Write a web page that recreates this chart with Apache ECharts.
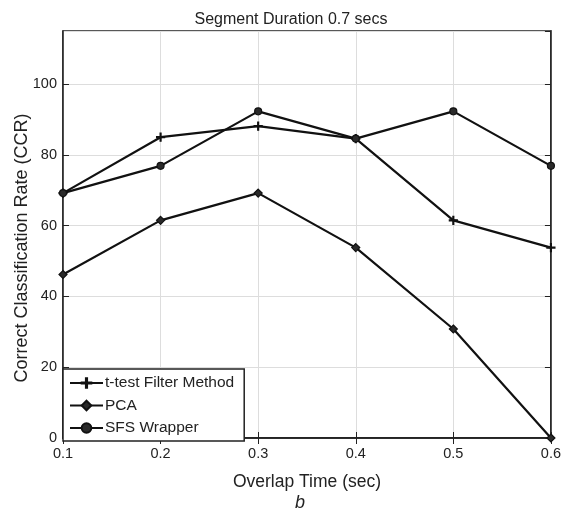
<!DOCTYPE html>
<html><head><meta charset="utf-8">
<script src="https://cdn.jsdelivr.net/npm/echarts@6/dist/echarts.min.js"></script>
<style>html,body{margin:0;padding:0;background:#fff}#c{width:564px;height:513px}</style>
</head><body><div id="c"></div>
<script>
var overlapTimes = [0.1, 0.2, 0.3, 0.4, 0.5, 0.6];
var ttestFilter = [69.2, 85.0, 88.1, 84.6, 61.5, 53.8];
var pca = [46.2, 61.5, 69.2, 53.8, 30.8, 0];
var sfsWrapper = [69.2, 76.9, 92.3, 84.6, 92.3, 76.9];
var seriesNames = ['t-test Filter Method', 'PCA', 'SFS Wrapper'];
var yTicks = [0, 20, 40, 60, 80, 100];

function pairs(v){ return overlapTimes.map(function(x,i){ return [x, v[i]]; }); }
var plus = 'path://M4.4,0H5.6V4.4H10V5.6H5.6V10H4.4V5.6H0V4.4H4.4Z';
var font = 'Liberation Sans, Arial, sans-serif';
var chart = echarts.init(document.getElementById('c'));
function lineSeries(name, data, symbol, size){
  return {name:name, type:'line', data:pairs(data), symbol:symbol, symbolSize:size,
    lineStyle:{color:'#111', width:2.2}, itemStyle:{color:'#2a2a2a', borderColor:'#111', borderWidth:1.2},
    animation:false, z:5};
}
chart.setOption({
  backgroundColor:'#fff',
  title:{text:'Segment Duration 0.7 secs', left:286, top:7, textAlign:'center',
    textStyle:{fontFamily:font, fontSize:16, fontWeight:'normal', color:'#222'}},
  grid:{left:63, right:12, top:31, bottom:75, show:true, borderColor:'#222', borderWidth:1.5, backgroundColor:'#fff'},
  legend:{orient:'vertical', left:63, top:369, itemWidth:33, itemHeight:12, itemGap:6.5,
    padding:[6,10,5,6], backgroundColor:'#fff', borderColor:'#222', borderWidth:1.5, borderRadius:0,
    textStyle:{fontFamily:font, fontSize:15.5, color:'#222', padding:[0,0,0,-3]}, data:seriesNames},
  xAxis:[{type:'value', min:0.1, max:0.6, interval:0.1,
    name:'Overlap Time (sec)', nameLocation:'middle', nameGap:35,
    nameTextStyle:{fontFamily:font, fontSize:17.5, color:'#222'},
    axisLine:{lineStyle:{color:'#222', width:1.5}}, axisTick:{inside:true, length:6, lineStyle:{color:'#222'}},
    axisLabel:{fontFamily:font, fontSize:14.5, color:'#222', margin:8, formatter:function(v){return v.toFixed(1);}},
    splitLine:{show:true, lineStyle:{color:'#ddd', width:1}}},
   {type:'value', position:'top', min:0.1, max:0.6, interval:0.1,
    axisLine:{lineStyle:{color:'#222', width:1.5}}, axisTick:{inside:true, length:6, lineStyle:{color:'#222'}},
    axisLabel:{show:false}, splitLine:{show:false}}],
  yAxis:[{type:'value', min:0, max:115, interval:20,
    axisLine:{lineStyle:{color:'#222', width:1.5}}, axisTick:{inside:true, length:6, lineStyle:{color:'#222'}},
    axisLabel:{fontFamily:font, fontSize:14.5, color:'#222', margin:6, showMaxLabel:false,
      formatter:function(v){ return yTicks.indexOf(v) >= 0 ? String(v) : ''; }},
    splitLine:{show:true, lineStyle:{color:'#ddd', width:1}}},
   {type:'value', position:'right', min:0, max:115, interval:20,
    axisLine:{lineStyle:{color:'#222', width:1.5}}, axisTick:{inside:true, length:6, lineStyle:{color:'#222'}},
    axisLabel:{show:false}, splitLine:{show:false}}],
  graphic:[
    {type:'text', x:22, y:248, rotation:Math.PI/2, style:{text:'Correct Classification Rate (CCR)', font:'18px Liberation Sans, Arial, sans-serif', fill:'#222', textAlign:'center', textVerticalAlign:'middle'}},
    {type:'text', x:300, y:503, style:{text:'b', font:'italic 18px Liberation Sans, Arial, sans-serif', fill:'#222', textAlign:'center', textVerticalAlign:'middle'}}
  ],
  series:[
    lineSeries(seriesNames[0], ttestFilter, plus, 8),
    lineSeries(seriesNames[1], pca, 'diamond', 8),
    lineSeries(seriesNames[2], sfsWrapper, 'circle', 7)
  ]
});
</script></body></html>
